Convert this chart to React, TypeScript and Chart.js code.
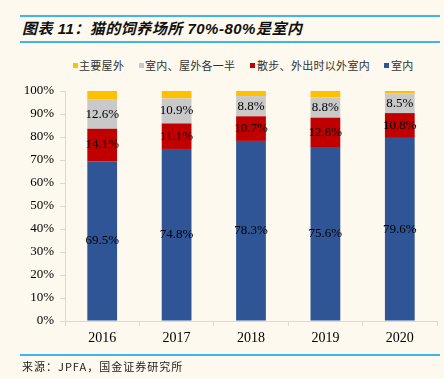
import React, { useEffect, useRef } from "react";
import { Chart, registerables } from "chart.js";

Chart.register(...registerables);

const years = ["2016", "2017", "2018", "2019", "2020"];
const indoor = [69.5, 74.8, 78.3, 75.6, 79.6];
const indoorExceptWalk = [14.1, 11.1, 10.7, 12.8, 10.8];
const half = [12.6, 10.9, 8.8, 8.8, 8.5];
const mainlyOutdoor = [3.8, 3.2, 2.2, 2.8, 1.1];
const yTicks = [0, 10, 20, 30, 40, 50, 60, 70, 80, 90, 100];

const seriesNames = ["室内", "散步、外出时以外室内", "室内、屋外各一半", "主要屋外"];
const seriesColors = ["#2F5597", "#C00000", "#C9C9C9", "#FFC000"];
const labelled = [true, true, true, false];

const BG = "#FDF9EF";

const labelPlugin = {
  id: "segLabels",
  afterDatasetsDraw(chart: any) {
    const ctx = chart.ctx;
    ctx.save();
    ctx.font = '13px "Liberation Serif", "Times New Roman", serif';
    ctx.fillStyle = "#000";
    ctx.textAlign = "center";
    ctx.textBaseline = "middle";
    chart.data.datasets.forEach((ds: any, i: number) => {
      if (!labelled[i]) return;
      const meta = chart.getDatasetMeta(i);
      meta.data.forEach((bar: any, j: number) => {
        const y = (bar.y + bar.base) / 2;
        ctx.fillText(ds.data[j].toFixed(1) + "%", bar.x, y);
      });
    });
    ctx.restore();
  },
};

export default function App() {
  const ref = useRef<HTMLCanvasElement | null>(null);
  useEffect(() => {
    if (!ref.current) return;
    const data = [indoor, indoorExceptWalk, half, mainlyOutdoor];
    const chart = new Chart(ref.current, {
      type: "bar",
      data: {
        labels: years,
        datasets: data.map((d, i) => ({
          label: seriesNames[i],
          data: d,
          backgroundColor: seriesColors[i],
          borderWidth: 0,
          categoryPercentage: 1,
          barPercentage: 0.4,
        })),
      },
      plugins: [labelPlugin],
      options: {
        animation: false,
        responsive: false,
        maintainAspectRatio: false,
        layout: { padding: { top: 91, left: 0, right: 7, bottom: 28 } },
        plugins: {
          legend: { display: false },
          tooltip: { enabled: false },
          title: { display: false },
        },
        scales: {
          x: {
            stacked: true,
            afterFit: (s: any) => {
              s.height = 30;
            },
            grid: {
              display: true,
              drawOnChartArea: false,
              drawTicks: true,
              tickLength: 5,
              offset: true,
              color: "#D9D9D9",
            },
            border: { color: "#D9D9D9", width: 1 },
            ticks: {
              color: "#000",
              padding: 4,
              font: { family: '"Liberation Serif", "Times New Roman", serif', size: 14 },
            },
          },
          y: {
            stacked: true,
            min: 0,
            max: 100,
            afterFit: (s: any) => {
              s.width = 65;
            },
            afterBuildTicks: (s: any) => {
              s.ticks = yTicks.map((v) => ({ value: v }));
            },
            grid: {
              display: true,
              drawOnChartArea: false,
              drawTicks: true,
              tickLength: 5,
              color: "#D9D9D9",
            },
            border: { color: "#D9D9D9", width: 1 },
            ticks: {
              color: "#000",
              padding: 6,
              font: { family: '"Liberation Serif", "Times New Roman", serif', size: 13 },
              callback: (v: any) => v + "%",
            },
          },
        },
      },
    });
    return () => chart.destroy();
  }, []);

  const legendOrder = [3, 2, 1, 0];
  const legendBoxX = [73, 139, 250, 384];
  const legendTextX = [79, 145, 257, 391];
  return (
    <div
      style={{
        position: "absolute",
        left: 0,
        top: 0,
        width: 444,
        height: 379,
        background: BG,
        overflow: "hidden",
      }}
    >
      <div style={{ position: "absolute", left: 20, top: 15, width: 420, height: 2, background: "#3DB5F0" }} />
      <div
        style={{
          position: "absolute",
          left: 22,
          top: 17,
          fontFamily: '"Liberation Sans", "Noto Sans CJK SC", sans-serif',
          fontWeight: "bold",
          fontStyle: "italic",
          fontSize: 15,
          letterSpacing: 0.5,
          lineHeight: "24px",
          color: "#111",
          whiteSpace: "nowrap",
        }}
      >
        图表 11：猫的饲养场所 70%-80%是室内
      </div>
      <div style={{ position: "absolute", left: 20, top: 41, width: 420, height: 2, background: "#3DB5F0" }} />
      {legendOrder.map((i, k) => (
        <React.Fragment key={i}>
          <span
            style={{
              position: "absolute",
              left: legendBoxX[k],
              top: 63,
              width: 5,
              height: 5,
              background: seriesColors[i],
            }}
          />
          <span
            style={{
              position: "absolute",
              left: legendTextX[k],
              top: 58,
              fontFamily: '"Noto Sans CJK SC", sans-serif',
              fontSize: 11,
              letterSpacing: 0.3,
              lineHeight: "14px",
              color: "#333",
              whiteSpace: "nowrap",
            }}
          >
            {seriesNames[i]}
          </span>
        </React.Fragment>
      ))}
      <canvas ref={ref} width={444} height={379} style={{ position: "absolute", left: 0, top: 0, width: 444, height: 379 }} />
      <div style={{ position: "absolute", left: 20, top: 354, width: 420, height: 2, background: "#3DB5F0" }} />
      <div
        style={{
          position: "absolute",
          left: 22,
          top: 358,
          fontFamily: '"Noto Sans CJK SC", sans-serif',
          fontSize: 11,
          letterSpacing: 1,
          lineHeight: "16px",
          color: "#222",
          whiteSpace: "nowrap",
        }}
      >
        来源：JPFA，国金证券研究所
      </div>
    </div>
  );
}
